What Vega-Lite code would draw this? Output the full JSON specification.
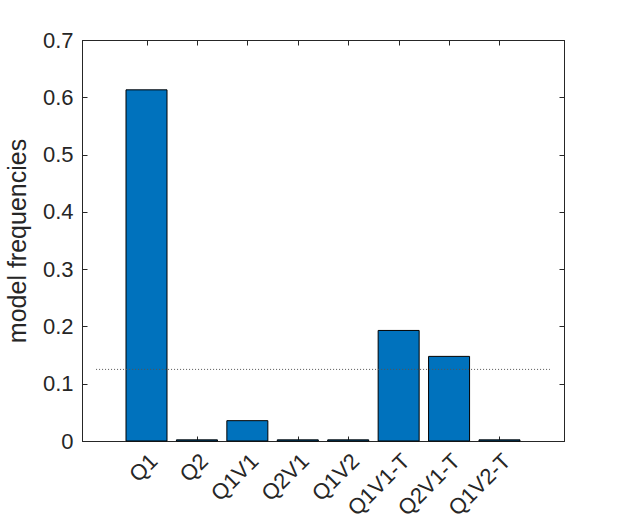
{
  "$schema": "https://vega.github.io/schema/vega-lite/v6.json",
  "autosize": "none",
  "width": 482,
  "height": 401,
  "padding": {"left": 82, "top": 40, "right": 59, "bottom": 84},
  "background": "white",
  "config": {
    "view": {"stroke": "#262626", "strokeWidth": 1},
    "font": "Liberation Sans",
    "axis": {
      "labelFont": "Liberation Sans",
      "titleFont": "Liberation Sans",
      "labelColor": "#262626",
      "titleColor": "#262626",
      "domainColor": "#262626",
      "tickColor": "#262626",
      "grid": false,
      "tickSize": -5,
      "labelFontSize": 22,
      "titleFontSize": 25,
      "titleFontWeight": "normal",
      "labelOverlap": false
    }
  },
  "datasets": {
    "bars": [
      {"model": "Q1", "idx": 1, "freq": 0.613},
      {"model": "Q2", "idx": 2, "freq": 0.002},
      {"model": "Q1V1", "idx": 3, "freq": 0.0355},
      {"model": "Q2V1", "idx": 4, "freq": 0.002},
      {"model": "Q1V2", "idx": 5, "freq": 0.002},
      {"model": "Q1V1-T", "idx": 6, "freq": 0.193},
      {"model": "Q2V1-T", "idx": 7, "freq": 0.1477},
      {"model": "Q1V2-T", "idx": 8, "freq": 0.002}
    ],
    "chance": [
      {"from": 0, "to": 9, "level": 0.125}
    ]
  },
  "layer": [
    {
      "data": {"name": "bars"},
      "mark": {"type": "bar", "width": 41, "fill": "#0072BD", "stroke": "#000000", "strokeWidth": 1},
      "encoding": {
        "x": {
          "field": "idx", "type": "quantitative",
          "scale": {"domain": [-0.18, 9.18], "nice": false, "zero": false},
          "axis": {
            "orient": "bottom", "title": null, "values": [1, 2, 3, 4, 5, 6, 7, 8],
            "labelAngle": -45, "labelPadding": 14,
            "labelExpr": "['', 'Q1', 'Q2', 'Q1V1', 'Q2V1', 'Q1V2', 'Q1V1-T', 'Q2V1-T', 'Q1V2-T'][datum.value]"
          }
        },
        "y": {
          "field": "freq", "type": "quantitative",
          "scale": {"domain": [0, 0.7], "nice": false},
          "axis": {
            "orient": "left", "title": "model frequencies",
            "values": [0, 0.1, 0.2, 0.3, 0.4, 0.5, 0.6, 0.7],
            "format": ".1~f", "labelPadding": 14, "titlePadding": 12
          }
        }
      }
    },
    {
      "data": {"name": "chance"},
      "mark": {"type": "rule", "color": "#555555", "strokeWidth": 1, "strokeDash": [1, 2]},
      "encoding": {
        "x": {
          "field": "from", "type": "quantitative",
          "scale": {"domain": [-0.18, 9.18], "nice": false, "zero": false},
          "axis": {"orient": "top", "title": null, "values": [1, 2, 3, 4, 5, 6, 7, 8], "labels": false}
        },
        "x2": {"field": "to"},
        "y": {
          "field": "level", "type": "quantitative",
          "scale": {"domain": [0, 0.7], "nice": false},
          "axis": {"orient": "right", "title": null, "values": [0, 0.1, 0.2, 0.3, 0.4, 0.5, 0.6, 0.7], "labels": false}
        }
      }
    }
  ],
  "resolve": {"axis": {"x": "independent", "y": "independent"}}
}
